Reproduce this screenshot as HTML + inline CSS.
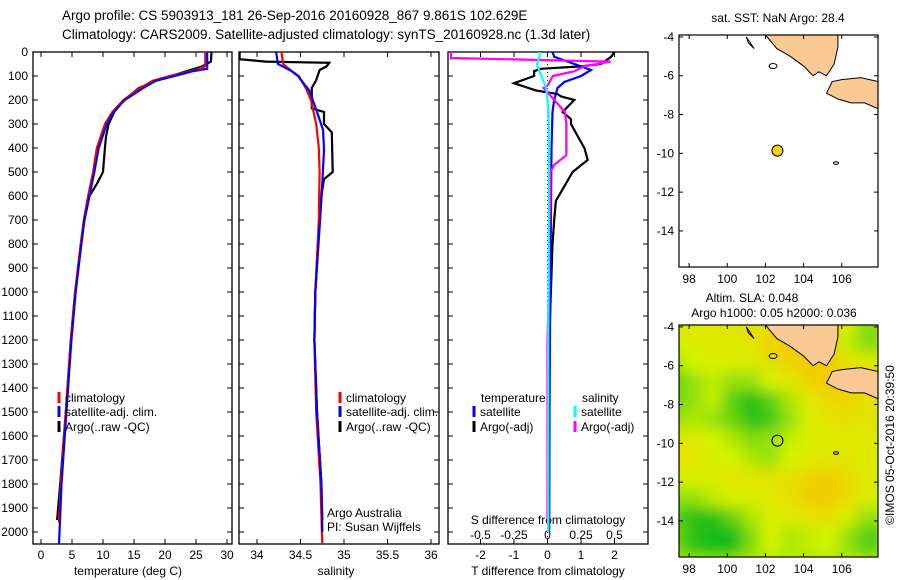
<!DOCTYPE html>
<html><head><meta charset="utf-8"><style>
body{margin:0;background:#fff}
svg{display:block;font-family:"Liberation Sans",Arial,sans-serif}
text{font-size:12px;fill:#000}
</style></head><body>
<svg id="c" width="900" height="580" viewBox="0 0 900 580">
<text x="62" y="20" style="font-size:13.5px">Argo profile: CS 5903913_181 26-Sep-2016 20160928_867 9.861S 102.629E</text>
<text x="62" y="39" style="font-size:13.5px">Climatology: CARS2009. Satellite-adjusted climatology: synTS_20160928.nc (1.3d later)</text>
<text transform="translate(894,445) rotate(-90)" text-anchor="middle">©IMOS 05-Oct-2016 20:39:50</text>
<g id="g"></g>
</svg>
<script>
// ---------- data ----------
const depthTicks=[0,100,200,300,400,500,600,700,800,900,1000,1100,1200,1300,1400,1500,1600,1700,1800,1900,2000];
const tempTicks=[0,5,10,15,20,25,30];
const salTicks=[34,34.5,35,35.5,36];
const tdiffTicks=[-2,-1,0,1,2];
const sdiffTicks=[-0.5,-0.25,0,0.25,0.5];
const sdiffLabels=["-0.5","-0.25","0","0.25","0.5"];
const lonTicks=[98,100,102,104,106];
const latTicks=[-4,-6,-8,-10,-12,-14];

const tClimD=[0,60,75,100,120,150,200,250,300,400,500,600,700,800,1000,1200,1500,1800,1960];
const tClimV=[26.5,26.5,25,20.8,18,16,13.3,11.5,10.3,9,8.4,7.6,6.9,6.4,5.5,4.8,4,3.2,2.9];
const tSatD=[0,70,80,100,120,150,200,250,300,400,500,600,700,800,1000,1200,1500,1800,2050];
const tSatV=[26.8,26.8,24.5,21.5,18.5,16.5,13.5,11.7,10.6,9.3,8.6,7.8,7.0,6.5,5.6,4.9,4.1,3.3,2.9];
const tArgoD=[0,40,60,80,100,120,150,200,250,300,350,400,500,550,600,700,800,1000,1200,1500,1800,1950];
const tArgoV=[27.5,27.4,26,23.5,21,18.5,15.8,13.4,11.8,10.9,10.5,10.3,10,9,7.8,7,6.5,5.5,4.8,4,3.1,2.6];

const sClimD=[0,50,80,100,150,200,300,400,500,700,1000,1200,1500,1800,2060];
const sClimV=[34.28,34.3,34.4,34.48,34.56,34.62,34.68,34.71,34.72,34.71,34.67,34.66,34.68,34.73,34.75];
const sSatD=[0,50,80,100,160,200,240,325,410,615,1000,1200,1500,1800,2000];
const sSatV=[34.22,34.24,34.4,34.47,34.6,34.64,34.68,34.76,34.77,34.74,34.67,34.66,34.69,34.74,34.75];
const sArgoD=[0,30,40,45,60,75,117,150,200,235,250,300,335,500,530,595,700,1000,1200,1500,1800,1950];
const sArgoV=[33.8,33.8,34.1,34.83,34.8,34.72,34.68,34.63,34.63,34.63,34.77,34.77,34.86,34.87,34.77,34.74,34.72,34.67,34.66,34.69,34.74,34.75];

const dTSatD=[0,20,60,75,100,125,150,200,250,400,700,1000,1500,2000];
const dTSatV=[0.15,0.2,1.0,1.3,1.0,0.5,0.3,0.2,0.15,0.12,0.1,0.08,0.06,0.05];
const dTArgoD=[0,20,50,60,70,80,100,130,160,175,185,200,250,280,300,350,400,450,500,560,620,700,800,1000,1200,1500,1950];
const dTArgoV=[2.0,1.9,1.6,1.0,-0.2,-0.4,-0.4,-1.0,-0.35,0.3,0.4,0.8,0.45,0.7,0.7,0.9,1.1,1.2,0.75,0.5,0.25,0.2,0.15,0.1,0.05,0.05,0.0];
const dSSatD=[0,20,50,80,150,200,300,500,800,1200,1600,2000];
const dSSatV=[-0.06,-0.06,-0.08,-0.06,-0.01,0.0,0.01,0.01,0.01,0.005,0.005,0.005];
const dSArgoD=[0,25,40,60,80,100,140,150,200,250,300,430,470,500,600,800,1000,1200,1500,1950];
const dSArgoV=[-0.72,-0.72,0.47,0.27,0.2,0.04,0.0,-0.03,0.05,0.13,0.14,0.14,0.05,0.02,0.02,0.01,0.01,0.0,0.0,0.0];

const floatLon=102.629, floatLat=-9.861;
const slaGrid=[
[.6,.6,.6,.65,.7,.75,.8,.8,.85,.5,.3],
[.55,.6,.6,.6,.65,.8,.88,.88,.8,.45,.3],
[.4,.5,.55,.55,.6,.7,.8,.88,.85,.7,.6],
[.25,.35,.45,.35,.35,.5,.65,.8,.9,.85,.75],
[.25,.35,.45,.2,.1,.2,.4,.6,.75,.8,.7],
[.35,.4,.35,.25,.1,.15,.35,.55,.65,.7,.65],
[.6,.6,.5,.4,.3,.35,.45,.55,.6,.6,.6],
[.65,.65,.55,.5,.4,.35,.5,.6,.65,.65,.6],
[.55,.55,.6,.65,.65,.65,.7,.8,.85,.75,.6],
[.35,.35,.45,.55,.55,.6,.7,.85,.88,.75,.55],
[.2,.1,.1,.25,.4,.55,.6,.65,.7,.55,.35],
[.25,.1,.05,.05,.3,.5,.4,.45,.5,.35,.2]];
const sumatraLon=[102.0,102.6,103.3,104,104.5,104.8,105.2,105.6,105.8,105.8];
const sumatraLat=[-3.9,-4.6,-5.0,-5.5,-6.0,-5.8,-6.0,-5.4,-4.5,-3.9];
const javaLon=[105.2,105.5,106,107,107.9,107.9,107.2,106.5,105.8];
const javaLat=[-6.9,-6.3,-6.2,-6.1,-6.3,-7.7,-7.4,-7.4,-7.2];

// ---------- helpers ----------
const NS="http://www.w3.org/2000/svg", G=document.getElementById('g');
function mk(tag,at,par){const e=document.createElementNS(NS,tag);for(const k in at)e.setAttribute(k,at[k]);(par||G).appendChild(e);return e;}
function txt(x,y,s,anchor,par){const t=mk('text',{x:x,y:y,'text-anchor':anchor||'start'},par);t.textContent=s;return t;}
const TOP=52, PXD=0.24, BOT=544;
const yD=d=>TOP+d*PXD;
const xT=v=>41+v*6.2;
const xS=v=>257+(v-34)*87;
const xDT=v=>547.5+v*33.5;
const xDS=v=>547.5+v*134;

function panel(x0,x1,name,labels){
  const g=mk('g',{});
  
  
  mk('rect',{x:x0,y:TOP,width:x1-x0,height:BOT-TOP,fill:'none',stroke:'#000','stroke-width':1.3},g);
  depthTicks.forEach(d=>{
    mk('line',{x1:x0,x2:x0+5,y1:yD(d),y2:yD(d),stroke:'#000'},g);
    mk('line',{x1:x1-5,x2:x1,y1:yD(d),y2:yD(d),stroke:'#000'},g);
    if(labels){const t=txt(x0-5,yD(d)+4,String(d),'end',g);}
  });
  return g;
}
function xticks(g,ticks,fx,labs,ly){
  ticks.forEach((v,i)=>{
    const x=fx(v);
    mk('line',{x1:x,x2:x,y1:BOT,y2:BOT-5,stroke:'#000'},g);
    mk('line',{x1:x,x2:x,y1:TOP,y2:TOP+5,stroke:'#000'},g);
    if(ly){const t=txt(x,ly,labs?labs[i]:String(v),'middle',g);}
  });
}
function prof(par,D,V,fx,col,w,name,clip){
  const pts=D.map((d,i)=>fx(V[i]).toFixed(1)+','+yD(d).toFixed(1)).join(' ');
  const p=mk('polyline',{points:pts,fill:'none',stroke:col,'stroke-width':w,'clip-path':'url(#'+clip+')'},par);
  
  
}
function legend(par,x,y,col,s){
  mk('line',{x1:x,x2:x,y1:y-10,y2:y+1,stroke:col,'stroke-width':3},par);
  const t=txt(x+6,y,s,'start',par);
  
  
}
const defs=mk('defs',{});
[['c1',33,232],['c2',239,439],['c3',448,648]].forEach(c=>{const cp=mk('clipPath',{id:c[0]},defs);mk('rect',{x:c[1],y:TOP,width:c[2]-c[1],height:BOT-TOP},cp);});

// panel 1
const p1=panel(33,232,'temperature-panel',true);
xticks(p1,tempTicks,xT,null,559);
const t1=txt(128,575,'temperature (deg C)','middle',p1);
prof(p1,tArgoD,tArgoV,xT,'#000',2.2,'argo-temperature-line','c1');
prof(p1,tClimD,tClimV,xT,'#f00',2.2,'climatology-temperature-line','c1');
prof(p1,tSatD,tSatV,xT,'#00f',2.2,'satellite-temperature-line','c1');
legend(p1,59,402,'#f00','climatology');legend(p1,59,416,'#00f','satellite-adj. clim.');legend(p1,59,431,'#000','Argo(..raw -QC)');

// panel 2
const p2=panel(239,439,'salinity-panel',false);
xticks(p2,salTicks,xS,null,559);
const t2=txt(336,575,'salinity','middle',p2);
prof(p2,sArgoD,sArgoV,xS,'#000',2.2,'argo-salinity-line','c2');
prof(p2,sClimD,sClimV,xS,'#f00',2.2,'climatology-salinity-line','c2');
prof(p2,sSatD,sSatV,xS,'#00f',2.2,'satellite-salinity-line','c2');
legend(p2,340,402,'#f00','climatology');legend(p2,340,416,'#00f','satellite-adj. clim.');legend(p2,340,431,'#000','Argo(..raw -QC)');
txt(327,517,'Argo Australia','start',p2);txt(327,531,'PI: Susan Wijffels','start',p2);

// panel 3
const p3=panel(448,648,'difference-panel',false);
xticks(p3,tdiffTicks,xDT,null,559);
sdiffTicks.forEach((v,i)=>{const t=txt(xDS(v),539,sdiffLabels[i],'middle',p3);});
txt(548,524,'S difference from climatology','middle',p3);
const t3=txt(548,575,'T difference from climatology','middle',p3);
mk('line',{x1:xDT(0),x2:xDT(0),y1:TOP,y2:BOT,stroke:'#000','stroke-dasharray':'1,3'},p3);
prof(p3,dTArgoD,dTArgoV,xDT,'#000',2.2,'argo-temperature-difference','c3');
prof(p3,dTSatD,dTSatV,xDT,'#00f',2.2,'satellite-temperature-difference','c3');
prof(p3,dSArgoD,dSArgoV,xDS,'#f0f',2.2,'argo-salinity-difference','c3');
prof(p3,dSSatD,dSSatV,xDS,'#0ff',2.2,'satellite-salinity-difference','c3');
txt(481,402,'temperature','start',p3);txt(582,402,'salinity','start',p3);
legend(p3,474,416,'#00f','satellite');legend(p3,575,416,'#0ff','satellite');
legend(p3,474,431,'#000','Argo(-adj)');legend(p3,575,431,'#f0f','Argo(-adj)');

// maps
function mapPanel(top,bot,name,heat){
  const L=679,R=878,lon0=97.47,lon1=107.9,lat0=-3.9,lat1=-15.86;
  const mx=v=>L+(v-lon0)/(lon1-lon0)*(R-L), my=v=>top+(v-lat0)/(lat1-lat0)*(bot-top);
  const g=mk('g',{});
  
  
  const cid='cm'+top;const cp=mk('clipPath',{id:cid},defs);mk('rect',{x:L,y:top,width:R-L,height:bot-top},cp);
  if(heat){
    const fl=mk('filter',{id:'bl'+top,x:'-10%',y:'-10%',width:'120%',height:'120%'},defs);mk('feGaussianBlur',{stdDeviation:7},fl);
    const hg=mk('g',{'clip-path':'url(#'+cid+')'},g);
    mk('rect',{x:L,y:top,width:R-L,height:bot-top,fill:'#b0e800'},hg);
    const bg=mk('g',{filter:'url(#bl'+top+')'},hg);
    const col=v=>{let r,gg,b;if(v<.5){const t=v/.5;r=0+t*(215-0);gg=180+t*(245-180);b=30*(1-t);}else{const t=(v-.5)/.5;r=215+t*(252-215);gg=245-t*(245-190);b=0;}return `rgb(${r|0},${gg|0},${b|0})`;};
    slaGrid.forEach((row,i)=>row.forEach((v,j)=>{
      const c=mk('rect',{x:mx(97.5+j)-14,y:my(-4-i)-14,width:mx(98.5)-mx(97.5)+8,height:my(-5)-my(-4)+8,fill:col(v)},bg);
      
      
    }));
  }
  const lg=mk('g',{'clip-path':'url(#'+cid+')'},g);
  [[sumatraLon,sumatraLat,'sumatra-land'],[javaLon,javaLat,'java-land']].forEach(a=>{
    const p=mk('polygon',{points:a[0].map((v,i)=>mx(v)+','+my(a[1][i])).join(' '),fill:'#fbc994',stroke:'#000','stroke-width':1},lg);
    
  });
  mk('ellipse',{cx:mx(102.4),cy:my(-5.5),rx:4,ry:2.5,fill:'none',stroke:'#000'},lg);
  mk('path',{d:`M${mx(101)},${my(-4)} L${mx(101.4)},${my(-4.6)} L${mx(101.1)},${my(-4.3)}Z`,fill:'none',stroke:'#000'},lg);
  mk('ellipse',{cx:mx(105.7),cy:my(-10.5),rx:2.5,ry:1.3,fill:'none',stroke:'#000'},lg);
  const dot=mk('circle',{cx:mx(floatLon),cy:my(floatLat),r:5.5,fill:heat?'none':'#f8d800',stroke:'#000','stroke-width':1},g);
  
  mk('rect',{x:L,y:top,width:R-L,height:bot-top,fill:'none',stroke:'#000','stroke-width':1.2},g);
  lonTicks.forEach(v=>{mk('line',{x1:mx(v),x2:mx(v),y1:top,y2:top+4,stroke:'#000'},g);mk('line',{x1:mx(v),x2:mx(v),y1:bot,y2:bot-4,stroke:'#000'},g);
    const t=txt(mx(v),bot+16,String(v),'middle',g);});
  latTicks.forEach(v=>{mk('line',{x1:L,x2:L+4,y1:my(v),y2:my(v),stroke:'#000'},g);mk('line',{x1:R,x2:R-4,y1:my(v),y2:my(v),stroke:'#000'},g);
    const t=txt(L-5,my(v)+4,String(v),'end',g);});
  return g;
}
const m1=mapPanel(35,267,'sst-map',false);
txt(778,22,'sat. SST: NaN Argo: 28.4','middle',m1);
const m2=mapPanel(325,557,'sla-map',true);
txt(752,302,'Altim. SLA: 0.048','middle',m2);
txt(774,317,'Argo h1000: 0.05 h2000: 0.036','middle',m2);
</script>
</body></html>
